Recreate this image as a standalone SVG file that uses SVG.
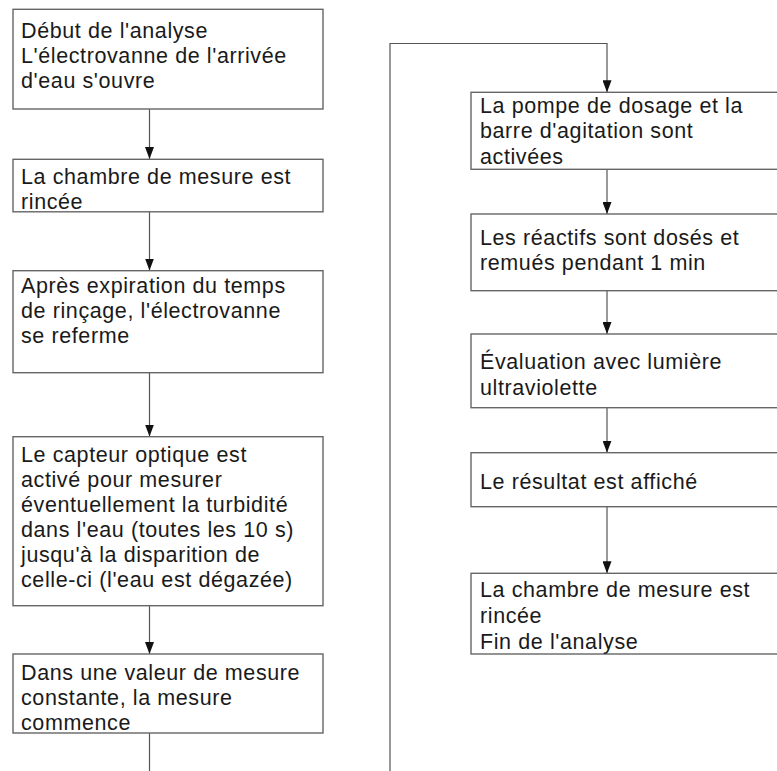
<svg xmlns="http://www.w3.org/2000/svg" width="777" height="771" viewBox="0 0 777 771">
<defs>
<style>
.box{fill:#fff;stroke:#666;stroke-width:1.4}
.t{font-family:"Liberation Sans",Arial,sans-serif;font-size:21.5px;letter-spacing:0.6px;fill:#1a1a1a}
.c{fill:none;stroke:#555;stroke-width:1.2}
</style>
<marker id="ah" markerUnits="userSpaceOnUse" markerWidth="12" markerHeight="9" refX="12" refY="4.5" orient="auto">
<path d="M0,0 L12,4.5 L0,9 z" fill="#111"/>
</marker>
</defs>
<rect width="777" height="771" fill="#fff"/>
<g id="connectors">
<line class="c" x1="149.5" y1="109" x2="149.5" y2="159" marker-end="url(#ah)"/>
<line class="c" x1="149.5" y1="212" x2="149.5" y2="270.5" marker-end="url(#ah)"/>
<line class="c" x1="149.5" y1="373" x2="149.5" y2="436.5" marker-end="url(#ah)"/>
<line class="c" x1="149.5" y1="606" x2="149.5" y2="654" marker-end="url(#ah)"/>
<line class="c" x1="149.5" y1="733" x2="149.5" y2="771"/>
<polyline class="c" points="390,771 390,43.5 607,43.5 607,92.3" marker-end="url(#ah)"/>
<line class="c" x1="607" y1="169.3" x2="607" y2="214" marker-end="url(#ah)"/>
<line class="c" x1="607" y1="290.7" x2="607" y2="334" marker-end="url(#ah)"/>
<line class="c" x1="607" y1="407.7" x2="607" y2="452.7" marker-end="url(#ah)"/>
<line class="c" x1="607" y1="506.7" x2="607" y2="573.3" marker-end="url(#ah)"/>
</g>
<g id="n1"><rect class="box" x="13" y="9.3" width="310" height="99.7"/>
<text class="t" x="21"><tspan x="21" y="38">Début de l'analyse</tspan><tspan x="21" y="63">L'électrovanne de l'arrivée</tspan><tspan x="21" y="88">d'eau s'ouvre</tspan></text></g>
<g id="n2"><rect class="box" x="13" y="159.3" width="310" height="52.5"/>
<text class="t"><tspan x="21" y="184">La chambre de mesure est</tspan><tspan x="21" y="209">rincée</tspan></text></g>
<g id="n3"><rect class="box" x="13" y="270.7" width="310" height="102"/>
<text class="t"><tspan x="21" y="293">Après expiration du temps</tspan><tspan x="21" y="318">de rinçage, l'électrovanne</tspan><tspan x="21" y="343">se referme</tspan></text></g>
<g id="n4"><rect class="box" x="13" y="436.7" width="310" height="169"/>
<text class="t"><tspan x="21" y="462">Le capteur optique est</tspan><tspan x="21" y="487">activé pour mesurer</tspan><tspan x="21" y="512">éventuellement la turbidité</tspan><tspan x="21" y="537">dans l'eau (toutes les 10 s)</tspan><tspan x="21" y="562">jusqu'à la disparition de</tspan><tspan x="21" y="587">celle-ci (l'eau est dégazée)</tspan></text></g>
<g id="n5"><rect class="box" x="13" y="654" width="310" height="79"/>
<text class="t"><tspan x="21" y="680">Dans une valeur de mesure</tspan><tspan x="21" y="705">constante, la mesure</tspan><tspan x="21" y="730">commence</tspan></text></g>
<g id="n6"><rect class="box" x="471" y="92.3" width="330" height="77"/>
<text class="t"><tspan x="480" y="113">La pompe de dosage et la</tspan><tspan x="480" y="138">barre d'agitation sont</tspan><tspan x="480" y="164">activées</tspan></text></g>
<g id="n7"><rect class="box" x="471" y="214" width="330" height="76.7"/>
<text class="t"><tspan x="480" y="245">Les réactifs sont dosés et</tspan><tspan x="480" y="270">remués pendant 1 min</tspan></text></g>
<g id="n8"><rect class="box" x="471" y="334" width="330" height="73.7"/>
<text class="t"><tspan x="480" y="369">Évaluation avec lumière</tspan><tspan x="480" y="395">ultraviolette</tspan></text></g>
<g id="n9"><rect class="box" x="471" y="452.7" width="330" height="54"/>
<text class="t"><tspan x="480" y="489">Le résultat est affiché</tspan></text></g>
<g id="n10"><rect class="box" x="471" y="573.3" width="330" height="80.7"/>
<text class="t"><tspan x="480" y="597">La chambre de mesure est</tspan><tspan x="480" y="623">rincée</tspan><tspan x="480" y="649">Fin de l'analyse</tspan></text></g>
</svg>
